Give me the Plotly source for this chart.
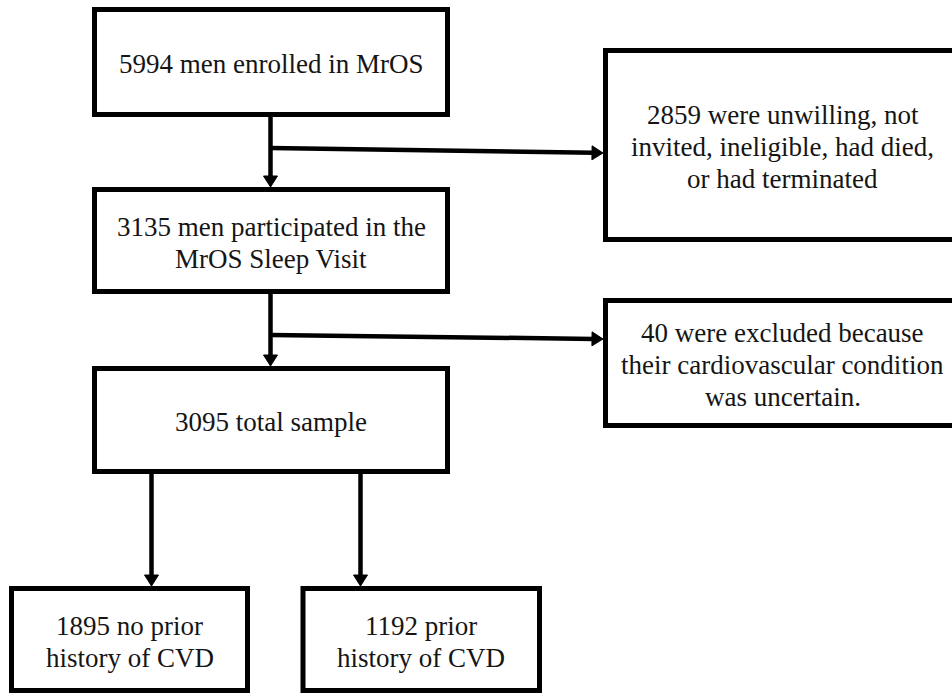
import plotly.graph_objects as go

# ---- data: flowchart counts and labels ----
enrolled = 5994
not_continued = 2859
sleep_visit = 3135
excluded = 40
total_sample = 3095
no_prior_cvd = 1895
prior_cvd = 1192

labels = {
    "enrolled": [f"{enrolled} men enrolled in MrOS"],
    "sleep": [f"{sleep_visit} men participated in the", "MrOS Sleep Visit"],
    "total": [f"{total_sample} total sample"],
    "dropped": [f"{not_continued} were unwilling, not", "invited, ineligible, had died,",
                "or had terminated"],
    "excluded": [f"{excluded} were excluded because", "their cardiovascular condition",
                 "was uncertain."],
    "no_cvd": [f"{no_prior_cvd} no prior", "history of CVD"],
    "cvd": [f"{prior_cvd} prior", "history of CVD"],
}

# ---- layout geometry (pixel canvas) ----
W, H = 952, 694
boxes = {
    "enrolled": (94.5, 447.5, 9.5, 114.5),
    "sleep": (94.5, 447.5, 189.5, 291.5),
    "total": (94.5, 447.5, 368.5, 471.5),
    "dropped": (605.5, 960, 50.5, 239.5),
    "excluded": (605.5, 960, 300.5, 425.5),
    "no_cvd": (11.5, 247.5, 588.5, 690.5),
    "cvd": (303, 539.5, 588.5, 690.5),
}
text_dy = 2        # small downward offset of text inside boxes
line_gap = 32      # px between text lines

# arrows: (x0, y0, x1, y1) tip at (x1, y1)
arrows = [
    (270.5, 117, 270.5, 187),
    (270.5, 148, 603, 153),
    (270.5, 294, 270.5, 366),
    (270.5, 335, 603, 339),
    (151.5, 474, 151.5, 586),
    (360.5, 474, 360.5, 586),
]

INK = "#151515"
FONT = "Liberation Serif, Times New Roman, serif"

fig = go.Figure()
shapes = []
annotations = []

for key, (x0, x1, y0, y1) in boxes.items():
    shapes.append(dict(type="rect", xref="x", yref="y", x0=x0, x1=x1, y0=y0, y1=y1,
                       line=dict(color="black", width=5), fillcolor="white", layer="below"))
    lines = labels[key]
    cx, cy = (x0 + x1) / 2, (y0 + y1) / 2 + text_dy
    n = len(lines)
    for i, t in enumerate(lines):
        annotations.append(dict(x=cx, y=cy + (i - (n - 1) / 2) * line_gap,
                                xref="x", yref="y", text=t, showarrow=False,
                                xanchor="center", yanchor="middle", align="center",
                                font=dict(family=FONT, size=27, color=INK)))

head_len, head_half = 11, 7
for (x0, y0, x1, y1) in arrows:
    dx, dy = x1 - x0, y1 - y0
    L = (dx * dx + dy * dy) ** 0.5
    ux, uy = dx / L, dy / L
    bx, by = x1 - ux * head_len, y1 - uy * head_len
    shapes.append(dict(type="line", xref="x", yref="y", x0=x0, y0=y0, x1=bx + ux * 2, y1=by + uy * 2,
                       line=dict(color="black", width=4.5)))
    px, py = -uy, ux
    path = (f"M {x1},{y1} L {bx + px * head_half},{by + py * head_half} "
            f"L {bx - px * head_half},{by - py * head_half} Z")
    shapes.append(dict(type="path", xref="x", yref="y", path=path,
                       fillcolor="black", line=dict(color="black", width=1)))

fig.update_layout(
    width=W, height=H,
    margin=dict(l=0, r=0, t=0, b=0),
    paper_bgcolor="white", plot_bgcolor="white",
    shapes=shapes, annotations=annotations,
    xaxis=dict(range=[0, W], visible=False, fixedrange=True),
    yaxis=dict(range=[H, 0], visible=False, fixedrange=True),
    showlegend=False,
)

fig.write_html("out.html", config={"displayModeBar": False},
               post_script="document.body.style.margin='0px';document.body.style.overflow='hidden';")
